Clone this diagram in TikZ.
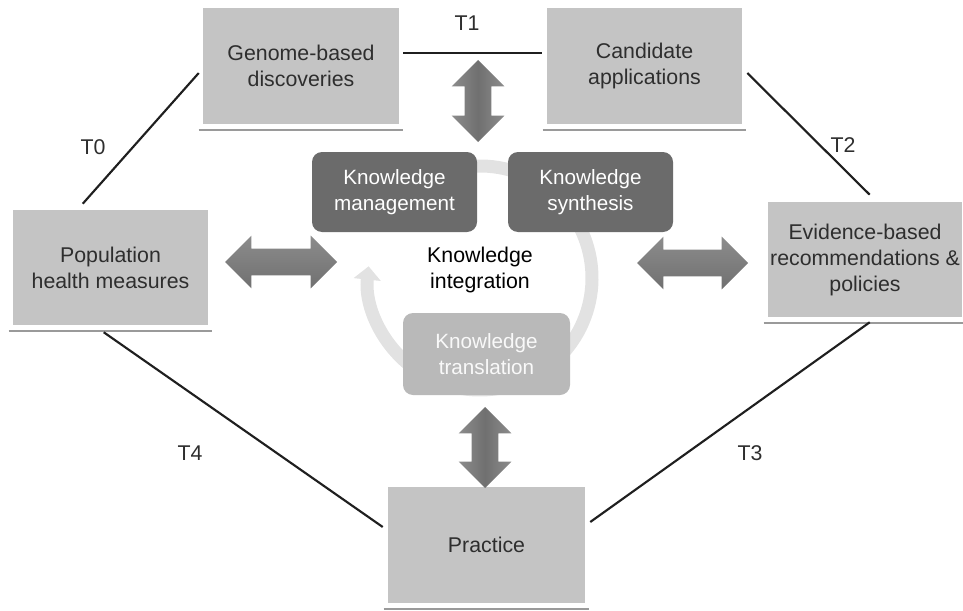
\documentclass[tikz,border=0pt]{standalone}
\usepackage{fontspec}
\setmainfont{Liberation Sans}
\usetikzlibrary{shapes.arrows,arrows.meta,calc}
\definecolor{boxgray}{HTML}{C4C4C4}
\definecolor{darkk}{HTML}{6B6B6B}
\definecolor{lightk}{HTML}{B9B9B9}
\definecolor{ringc}{HTML}{E2E2E2}
\definecolor{arrtop}{HTML}{8C8C8C}
\definecolor{arrbot}{HTML}{707070}
\definecolor{ulc}{HTML}{9A9A9A}
\definecolor{txt}{HTML}{2E2E2E}
\begin{document}
\begin{tikzpicture}[x=0.75pt,y=-0.75pt,
  bigbox/.style={fill=boxgray, inner sep=0pt, align=center, text=txt,
     font=\fontsize{16}{19.5}\selectfont},
  kbox/.style={rounded corners=7.5pt, inner sep=0pt, align=center,
     font=\fontsize{15.5}{19}\selectfont, minimum height=60pt},
  fat/.style={double arrow, double arrow head extend=9.75pt, inner xsep=0pt,
     inner ysep=9.75pt, draw=none, top color=arrtop, bottom color=arrbot},
  fatv/.style={double arrow, double arrow head extend=9.75pt, inner ysep=0pt,
     inner xsep=9.75pt, shape border rotate=90, draw=none,
     left color=arrtop, right color=arrtop, middle color=arrbot},
  tline/.style={line width=1.6pt, black!88},
  uline/.style={line width=1.4pt, ulc},
  tlab/.style={font=\fontsize{16}{19}\selectfont, text=txt}
]
\useasboundingbox (0,0) rectangle (963,610);

% ring
\coordinate (rc) at (480,278);
\draw[ringc, line width=9.75pt, -{Triangle[width=20pt,length=10pt]}]
  (rc) ++(215:112) arc[start angle=215, end angle=546, radius=112];

% knowledge boxes
\node[kbox, fill=darkk, text=white, minimum width=123.75pt] (mgmt) at (394.5,192) {Knowledge\\management};
\node[kbox, fill=darkk, text=white, minimum width=123.75pt] (synth) at (590.5,192) {Knowledge\\synthesis};
\node[kbox, fill=lightk, text=white!92!lightk, minimum width=125.25pt, minimum height=61.5pt] (transl) at (486.5,354) {Knowledge\\translation};
\node[font=\fontsize{16}{19.5}\selectfont, align=center, text=black] (integ) at (480,270) {Knowledge\\integration};

% big boxes
\node[bigbox, minimum width=147pt, minimum height=87pt] (gen) at (301,66) {Genome-based\\discoveries};
\node[bigbox, minimum width=146.25pt, minimum height=87pt] (cand) at (644.5,66) {Candidate\\applications};
\node[bigbox, minimum width=146.25pt, minimum height=86.25pt] (pop) at (110.5,267.5) {Population\\health measures};
\node[bigbox, minimum width=145.5pt, minimum height=86.25pt] (evid) at (865,259.5) {Evidence-based\\recommendations \&\\policies};
\node[bigbox, minimum width=147.75pt, minimum height=87pt] (prac) at (486.5,545) {Practice};

% underlines
\foreach \b in {gen,cand,pop,evid,prac}{
  \draw[uline] ($(\b.south west)+(-4,6)$) -- ($(\b.south east)+(4,6)$);
}

% fat double arrows
\node[fatv, minimum height=61.5pt] (atop) at (478,101) {};
\node[fatv, minimum height=60.75pt] (abot) at (485,447.5) {};
\node[fat, minimum height=84pt] (aleft) at (281,262) {};
\node[fat, minimum height=83.25pt] (aright) at (692.5,263) {};

% T connectors
\draw[tline] ($(pop.north west)+(70,-6)$) -- ($(gen.west)+(-4,7)$);
\draw[tline] ($(gen.east)+(4,-13)$) -- ($(cand.west)+(-5,-13)$);
\draw[tline] ($(cand.east)+(5,7)$) -- ($(evid.north west)+(102,-7)$);
\draw[tline] ($(evid.south west)+(102,5)$) -- ($(prac.east)+(5,-23)$);
\draw[tline] ($(pop.south west)+(91,7)$) -- ($(prac.west)+(-5,-18)$);

% labels
\node[tlab] (t0) at (93,147) {T0};
\node[tlab] (t1) at (467,23) {T1};
\node[tlab] (t2) at (843,145) {T2};
\node[tlab] (t3) at (750,453) {T3};
\node[tlab] (t4) at (190,453) {T4};
\end{tikzpicture}
\end{document}
